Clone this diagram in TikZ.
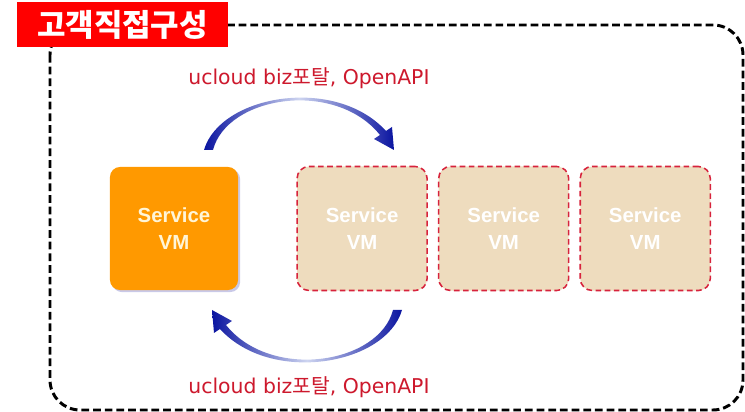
\documentclass[tikz,border=0pt]{standalone}
\usepackage{fontspec}
\setmainfont{Liberation Sans}
\newfontfamily\kr{Noto Sans CJK KR}
\newfontfamily\dv{DejaVu Sans}
\usetikzlibrary{positioning, shadows, arrows}

\definecolor{vmorange}{RGB}{255,153,0}
\definecolor{vmbeige}{RGB}{238,220,190}
\definecolor{dashred}{RGB}{215,35,60}
\definecolor{capred}{RGB}{205,25,45}
\definecolor{arcblue}{RGB}{10,20,160}
\definecolor{arclight}{RGB}{205,212,240}

\tikzset{
  vmbox/.style={rounded corners=0.25cm, minimum width=3.2cm, minimum height=3.075cm,
    align=center, inner sep=0pt, font=\fontsize{14.5}{19}\selectfont\bfseries},
  hostvm/.style={vmbox, fill=vmorange, text={rgb,255:red,255;green,245;blue,215},
    drop shadow={shadow xshift=1.5pt, shadow yshift=-1.5pt, opacity=.3, fill=blue!40!gray}},
  guestvm/.style={vmbox, minimum width=3.25cm, minimum height=3.1cm, rounded corners=0.3cm,
    fill=vmbeige, text=white, draw=dashred, line width=1.1pt, dash pattern=on 4pt off 2.5pt},
  caption/.style={text=capred, font=\dv\fontsize{14.5}{17}\selectfont},
  tag/.style={fill=red, text=white, inner sep=0pt, minimum width=5.275cm, minimum height=1.125cm,
    font=\kr\bfseries\fontsize{22}{24}\selectfont},
  bluearc/.pic={
    \shade[left color=arcblue, right color=arcblue, middle color=arclight]
      (-95,0) .. controls (-79,-55) and (36,-75) .. (87,-19) -- (93,-23) -- (95,0)
      -- (75,-11) -- (81,-15) .. controls (36,-71) and (-72,-54) .. (-86,0) -- cycle;
  }
}

\begin{document}
\begin{tikzpicture}[x=0.025cm, y=-0.025cm]
    \useasboundingbox (0,0) rectangle (745,412);

    % Frame
    \draw[line width=2.1pt, dash pattern=on 5.5pt off 2.8pt, rounded corners=0.75cm] (50,25) rectangle (743,410);
    \node[tag] (title) at (122.5,24.5) {고객직접구성};

    % VMs
    \node[hostvm] (vm) at (174,228.5) {Service\\VM};
    \node[guestvm, right=1.45cm of vm] (g1) {Service\\VM};
    \node[guestvm, right=0.25cm of g1] (g2) {Service\\VM};
    \node[guestvm, right=0.25cm of g2] (g3) {Service\\VM};

    % Arcs
    \pic at (299,150) {bluearc};
    \pic[rotate=180] at (307,310) {bluearc};
    \node[caption] (topcap) at (309,78) {ucloud biz{\kr 포탈}, OpenAPI};
    \node[caption] (botcap) at (309,387) {ucloud biz{\kr 포탈}, OpenAPI};

\end{tikzpicture}
\end{document}
